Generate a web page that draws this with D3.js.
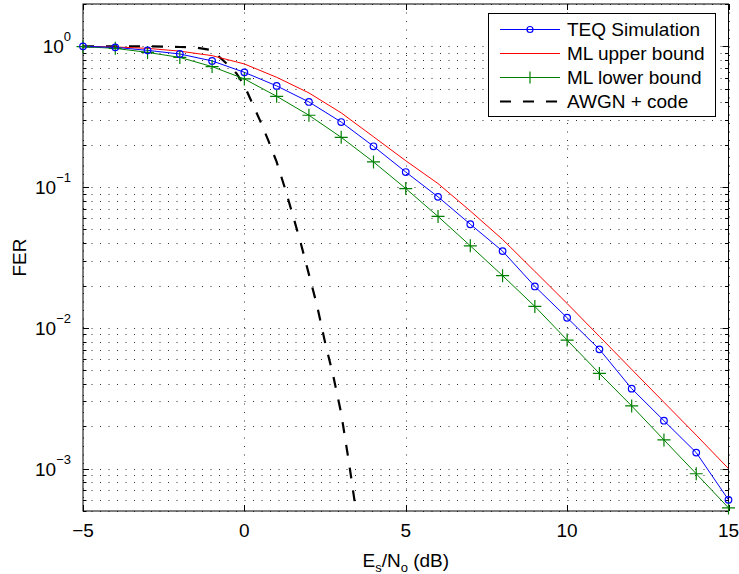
<!DOCTYPE html>
<html>
<head>
<meta charset="utf-8">
<script src="https://cdn.jsdelivr.net/npm/d3@7"></script>
<style>
  html, body { margin: 0; padding: 0; background: #fff; }
  svg { display: block; }
  text { font-family: "Liberation Sans", Arial, Helvetica, sans-serif; fill: #000; }
</style>
</head>
<body>
<svg id="chart" width="739" height="574"></svg>
<script>
// ---- data ----
const snr = [-5,-4,-3,-2,-1,0,1,2,3,4,5,6,7,8,9,10,11,12,13,14,15];
const teqSim = [1.0,0.984,0.937,0.883,0.788,0.654,0.524,0.403,0.290,0.195,0.128,0.0853,0.0545,0.0351,0.0197,0.0118,0.00704,0.0037,0.00219,0.0013,0.0006];
const mlUpper = [1.0,0.99,0.968,0.925,0.859,0.75,0.603,0.467,0.337,0.228,0.154,0.106,0.0677,0.0425,0.0252,0.0149,0.0087,0.00507,0.00296,0.00173,0.001];
const mlLower = [0.995,0.968,0.906,0.835,0.718,0.587,0.442,0.324,0.226,0.151,0.0977,0.0619,0.0383,0.0235,0.0142,0.00819,0.00475,0.00279,0.0016,0.00092,0.000526];
const awgnSnr = [-5,-4,-3,-2,-1.5,-1,-0.75,-0.5,-0.25,0,0.25,0.5,0.75,1,1.25,1.5,1.75,2,2.25,2.5,2.75,3,3.25,3.5];
const awgnFer = [1,1,1,0.99,0.98,0.94,0.83,0.736,0.645,0.526,0.392,0.292,0.212,0.151,0.0993,0.0634,0.0398,0.024,0.01445,0.00789,0.0046,0.00247,0.00107,0.00043];
const seriesNames = ["TEQ Simulation", "ML upper bound", "ML lower bound", "AWGN + code"];
const xTicks = [-5, 0, 5, 10, 15];
const yMajorTicks = [1, 0.1, 0.01, 0.001];
const yTickExponents = ["0", "\u22121", "\u22122", "\u22123"];
const xDomain = [-5, 15];
const yDomain = [5e-4, 2];

// ---- layout ----
const svg = d3.select("#chart");
const L = 83, R = 728.5, T = 4, B = 511;
const x = d3.scaleLinear().domain(xDomain).range([L, R]);
const y = d3.scaleLog().domain(yDomain).range([B, T]);

// minor log ticks
const yMinor = [];
for (let e = -4; e <= 0; e++) {
  for (let k = 1; k <= 9; k++) {
    const v = k * Math.pow(10, e);
    if (v >= yDomain[0] - 1e-12 && v <= yDomain[1] + 1e-12) yMinor.push(v);
  }
}

// ---- grid ----
const grid = svg.append("g").attr("stroke", "#333").attr("stroke-width", 1)
  .attr("stroke-dasharray", "1,7.5").attr("fill", "none");
yMinor.forEach(v => {
  const yy = Math.round(y(v)) + 0.5;
  grid.append("line").attr("x1", L).attr("x2", R).attr("y1", yy).attr("y2", yy);
});
xTicks.forEach(v => {
  const xx = Math.round(x(v)) + 0.5;
  grid.append("line").attr("x1", xx).attr("x2", xx).attr("y1", T).attr("y2", B);
});

// ---- axes box and ticks ----
const ax = svg.append("g").attr("stroke", "#000").attr("stroke-width", 1).attr("fill", "none");
ax.append("rect").attr("x", L).attr("y", T).attr("width", R - L).attr("height", B - T);
xTicks.forEach(v => {
  const xx = Math.round(x(v)) + 0.5;
  ax.append("line").attr("x1", xx).attr("x2", xx).attr("y1", B).attr("y2", B - 6);
  ax.append("line").attr("x1", xx).attr("x2", xx).attr("y1", T).attr("y2", T + 6);
});
yMinor.forEach(v => {
  const yy = Math.round(y(v)) + 0.5;
  const major = yMajorTicks.some(m => Math.abs(m - v) < 1e-12);
  const len = major ? 6 : 3.5;
  ax.append("line").attr("x1", L).attr("x2", L + len).attr("y1", yy).attr("y2", yy);
  ax.append("line").attr("x1", R).attr("x2", R - len).attr("y1", yy).attr("y2", yy);
});

// tick labels
const xl = svg.append("g").attr("font-size", 19).attr("text-anchor", "middle");
xTicks.forEach(v => {
  xl.append("text").attr("x", x(v)).attr("y", B + 26).text(v < 0 ? "\u2212" + Math.abs(v) : String(v));
});
const yl = svg.append("g").attr("font-size", 19).attr("text-anchor", "end");
yMajorTicks.forEach((v, i) => {
  const t = yl.append("text").attr("x", 71).attr("y", y(v) + 7);
  t.append("tspan").text("10");
  t.append("tspan").attr("dy", -12).attr("font-size", 13).text(yTickExponents[i]);
});

// axis labels
const xlab = svg.append("text").attr("x", (L + R) / 2).attr("y", 567).attr("text-anchor", "middle").attr("font-size", 19);
xlab.append("tspan").text("E");
xlab.append("tspan").attr("dy", 5).attr("font-size", 13).text("s");
xlab.append("tspan").attr("dy", -5).text("/N");
xlab.append("tspan").attr("dy", 5).attr("font-size", 13).text("o");
xlab.append("tspan").attr("dy", -5).text(" (dB)");
svg.append("text").attr("transform", `translate(25.5,${(T + B) / 2}) rotate(-90)`)
  .attr("text-anchor", "middle").attr("font-size", 19).text("FER");

// ---- data lines ----
svg.append("defs").append("clipPath").attr("id", "clip")
  .append("rect").attr("x", L).attr("y", T).attr("width", R - L).attr("height", B - T);
const plot = svg.append("g").attr("clip-path", "url(#clip)");
const line = d3.line().x(d => x(d[0])).y(d => y(d[1]));

const teqPts = snr.map((s, i) => [s, teqSim[i]]);
const upPts = snr.map((s, i) => [s, mlUpper[i]]);
const lowPts = snr.map((s, i) => [s, mlLower[i]]);
const awgnPts = awgnSnr.map((s, i) => [s, awgnFer[i]]);

plot.append("path").attr("d", line(awgnPts)).attr("fill", "none").attr("stroke", "#000")
  .attr("stroke-width", 2.2).attr("stroke-dasharray", "11,12");
plot.append("path").attr("d", line(upPts)).attr("fill", "none").attr("stroke", "#ff0000").attr("stroke-width", 1);
plot.append("path").attr("d", line(lowPts)).attr("fill", "none").attr("stroke", "#008000").attr("stroke-width", 1);
plot.append("path").attr("d", line(teqPts)).attr("fill", "none").attr("stroke", "#0000ff").attr("stroke-width", 1);

// markers
const mk = svg.append("g");
lowPts.forEach(d => {
  const cx = x(d[0]), cy = y(d[1]);
  mk.append("path").attr("d", `M${cx - 6.5},${cy}H${cx + 6.5}M${cx},${cy - 6.5}V${cy + 6.5}`)
    .attr("stroke", "#008000").attr("stroke-width", 1.2).attr("fill", "none");
});
teqPts.forEach(d => {
  mk.append("circle").attr("cx", x(d[0])).attr("cy", y(d[1])).attr("r", 3.3)
    .attr("fill", "none").attr("stroke", "#0000ff").attr("stroke-width", 1.2);
});

// ---- legend ----
const lg = svg.append("g");
lg.append("rect").attr("x", 488.5).attr("y", 13.5).attr("width", 227).attr("height", 103)
  .attr("fill", "#fff").attr("stroke", "#000").attr("stroke-width", 1);
const rowY = [29.5, 53.5, 77.5, 101.5];
const styles = [
  {stroke: "#0000ff", dash: null, w: 1, marker: "circle"},
  {stroke: "#ff0000", dash: null, w: 1, marker: null},
  {stroke: "#008000", dash: null, w: 1, marker: "plus"},
  {stroke: "#000", dash: "11,12", w: 2.2, marker: null}
];
seriesNames.forEach((name, i) => {
  const st = styles[i], yy = rowY[i];
  lg.append("line").attr("x1", 500).attr("x2", 560).attr("y1", yy).attr("y2", yy)
    .attr("stroke", st.stroke).attr("stroke-width", st.w).attr("stroke-dasharray", st.dash);
  if (st.marker === "circle") {
    lg.append("circle").attr("cx", 530).attr("cy", yy).attr("r", 3)
      .attr("fill", "none").attr("stroke", st.stroke).attr("stroke-width", 1.2);
  } else if (st.marker === "plus") {
    lg.append("path").attr("d", `M524,${yy}H536M530,${yy - 6}V${yy + 6}`)
      .attr("stroke", st.stroke).attr("stroke-width", 1.2).attr("fill", "none");
  }
  lg.append("text").attr("x", 567).attr("y", yy + 6.5).attr("font-size", 19).text(name);
});
</script>
</body>
</html>
